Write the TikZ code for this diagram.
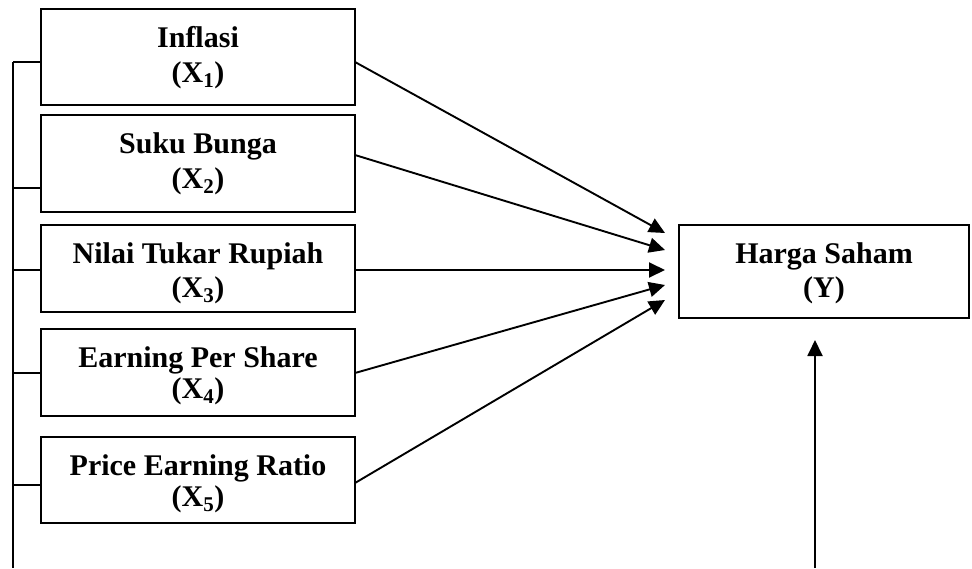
\documentclass[tikz,border=0pt]{standalone}
\usepackage{fontspec}
\setmainfont{Liberation Serif}
\usetikzlibrary{arrows.meta}
\tikzset{
  boxst/.style={draw, line width=2pt},
  lbl/.style={anchor=base, inner sep=0pt, font=\fontsize{30}{36}\selectfont\bfseries},
  conn/.style={line width=1.9pt},
  arr/.style={line width=1.9pt, -{Triangle[length=16pt,width=15pt]}}
}
\begin{document}
\begin{tikzpicture}[x=1pt,y=-1pt]
\useasboundingbox (0,0) rectangle (972,568);
% boxes
\draw[boxst] (41,9) rectangle (355,105);
\draw[boxst] (41,115) rectangle (355,212);
\draw[boxst] (41,225) rectangle (355,312);
\draw[boxst] (41,329) rectangle (355,416);
\draw[boxst] (41,437) rectangle (355,523);
\draw[boxst] (679,225) rectangle (969,318);
% labels
\node[lbl] (t1a) at (198,47) {Inflasi};
\node[lbl] (t1b) at (198,82) {(X\textsubscript{1})};
\node[lbl] (t2a) at (198,153) {Suku Bunga};
\node[lbl] (t2b) at (198,188) {(X\textsubscript{2})};
\node[lbl] (t3a) at (198,263) {Nilai Tukar Rupiah};
\node[lbl] (t3b) at (198,297) {(X\textsubscript{3})};
\node[lbl] (t4a) at (198,367) {Earning Per Share};
\node[lbl] (t4b) at (198,398) {(X\textsubscript{4})};
\node[lbl] (t5a) at (198,475) {Price Earning Ratio};
\node[lbl] (t5b) at (198,506) {(X\textsubscript{5})};
\node[lbl] (tya) at (824,263) {Harga Saham};
\node[lbl] (tyb) at (824,297) {(Y)};
% coordinates
\coordinate (l1) at (41,62);  \coordinate (r1) at (355,62);
\coordinate (l2) at (41,188); \coordinate (r2) at (355,155);
\coordinate (l3) at (41,270); \coordinate (r3) at (355,270);
\coordinate (l4) at (41,373); \coordinate (r4) at (355,373);
\coordinate (l5) at (41,485); \coordinate (r5) at (355,483);
\coordinate (v1) at (13,62);  \coordinate (v2) at (13,188);
\coordinate (v3) at (13,270); \coordinate (v4) at (13,373);
\coordinate (v5) at (13,485); \coordinate (vb) at (13,568);
\coordinate (a1) at (665,233); \coordinate (a2) at (665,250);
\coordinate (a3) at (665,270); \coordinate (a4) at (665,285);
\coordinate (a5) at (665,300);
\coordinate (ub) at (815,568); \coordinate (ut) at (815,340);
% left bus
\draw[conn] (v1) -- (vb);
\draw[conn] (v1) -- (l1);
\draw[conn] (v2) -- (l2);
\draw[conn] (v3) -- (l3);
\draw[conn] (v4) -- (l4);
\draw[conn] (v5) -- (l5);
% arrows
\draw[arr] (r1) -- (a1);
\draw[arr] (r2) -- (a2);
\draw[arr] (r3) -- (a3);
\draw[arr] (r4) -- (a4);
\draw[arr] (r5) -- (a5);
\draw[arr] (ub) -- (ut);
\end{tikzpicture}
\end{document}
